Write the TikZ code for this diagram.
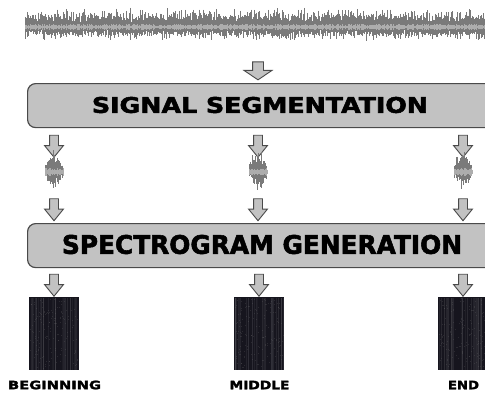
\documentclass[tikz,border=0pt]{standalone}
\usepackage{fontspec}
\usepackage{graphicx}
\setmainfont{DejaVu Sans}[BoldFeatures={FakeBold=2.2}]
\usetikzlibrary{shapes.arrows,positioning,calc}
\definecolor{boxgray}{HTML}{C2C2C2}
\definecolor{edgegray}{HTML}{4A4A4A}
\definecolor{wavegray}{HTML}{7A7A7A}
\definecolor{coregray}{HTML}{ADADAD}
\definecolor{specdark}{HTML}{16151E}

% heavy caps squeezed into a given width and cap height
\newcommand{\fitted}[3]{\resizebox{#1}{#2}{\bfseries #3}}

\tikzset{
  stagebox/.style={draw=edgegray, fill=boxgray, line width=1.2pt, rounded corners=8pt,
    minimum width=468pt, minimum height=44pt, inner sep=0pt, anchor=north west},
  blockarrow/.style={single arrow, draw=edgegray, fill=boxgray, line width=0.9pt,
    shape border rotate=270, single arrow head indent=0pt},
  bigarrow/.style={blockarrow, inner sep=5pt, minimum height=18pt,
    single arrow head extend=8.5pt, single arrow tip angle=112},
  smallarrow/.style={blockarrow, inner sep=4pt, minimum height=22pt,
    single arrow head extend=5pt, single arrow tip angle=78},
  specbox/.style={fill=specdark, minimum width=50pt, minimum height=73pt, inner sep=0pt},
  tag/.style={inner sep=0pt}
}

\begin{document}
\begin{tikzpicture}[x=1pt, y=-1pt]
    \clip (0,0) rectangle (485,392);
    \fill[white] (0,0) rectangle (485,392);

    % Full recording
    \pgfmathsetseed{11}
    \foreach \x in {25,25.6,...,485} {
        \pgfmathsetmacro\ra{rnd}
        \pgfmathsetmacro\rb{rnd}
        \pgfmathsetmacro\up{4+6*rnd+9*\ra^3}
        \pgfmathsetmacro\dn{4+5*rnd+6*\rb^3}
        \draw[wavegray, line width=0.6pt] (\x,26-\up) -- (\x,26+\dn);
    }
    \foreach \x in {25,26,...,485} {
        \pgfmathsetmacro\c{1+2*rnd}
        \draw[coregray, line width=0.8pt] (\x,27-\c) -- (\x,27+\c);
    }

    \node[bigarrow] (a0) at (258,69) {};

    % Segmentation stage
    \node[stagebox] (seg) at (27,83) {};
    \node[inner sep=0pt] (segtxt) at (260,105) {\fitted{336pt}{16pt}{SIGNAL SEGMENTATION}};

    % Three segments
    \foreach \s/\cx in {B/54,M/258,E/463} {
        \node[smallarrow] (up\s) at (\cx,143.5) {};
        \node[smallarrow] (dn\s) at (\cx,207) {};
        \foreach \i in {-9,-8.4,...,9} {
            \pgfmathsetmacro\env{1-(\i/11)^2}
            \pgfmathsetmacro\up{\env*(8+6*rnd+9*rnd^3)}
            \pgfmathsetmacro\dn{\env*(7+5*rnd+9*rnd^3)}
            \draw[wavegray, line width=0.6pt] (\cx+\i,171-\up) -- (\cx+\i,171+\dn);
        }
        \foreach \i in {-9,...,9} {
            \pgfmathsetmacro\c{2+2*rnd}
            \draw[coregray, line width=0.8pt] (\cx+\i,172-\c) -- (\cx+\i,172+\c);
        }
    }

    % Spectrogram stage
    \node[stagebox] (gen) at (27,223) {};
    \node[inner sep=0pt] (gentxt) at (262,244.5) {\fitted{400pt}{19pt}{SPECTROGRAM GENERATION}};

    % Spectrograms and their names
    \foreach \s/\cx/\name/\w in {B/54/BEGINNING/93pt,M/259/MIDDLE/60pt,E/463/END/31pt} {
        \node[smallarrow] (sp\s) at (\cx,282.5) {};
        \node[specbox] (spec\s) at (\cx,333.5) {};
        \foreach \i in {1,...,30} {
            \pgfmathsetmacro\px{\cx-24.5+49*rnd}
            \pgfmathsetmacro\op{0.03+0.06*rnd}
            \draw[white, opacity=\op, line width=0.8pt] (\px,297.5) -- (\px,369.5);
        }
        \foreach \i in {1,...,150} {
            \pgfmathsetmacro\px{\cx-24+48*rnd}
            \pgfmathsetmacro\py{298+70*rnd}
            \fill[gray, opacity=0.2] (\px,\py) rectangle +(1,1);
        }
        \node[tag] (name\s) at (\cx+0.5,385) {\fitted{\w}{8.5pt}{\name}};
    }
\end{tikzpicture}
\end{document}
